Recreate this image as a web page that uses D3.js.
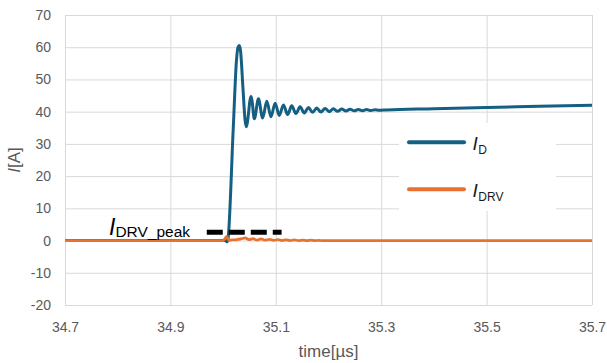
<!DOCTYPE html>
<html>
<head>
<meta charset="utf-8">
<script src="https://cdn.jsdelivr.net/npm/d3@7"></script>
<style>
  body { margin: 0; background: #fff; }
  svg { display: block; font-family: "Liberation Sans", Arial, sans-serif; }
</style>
</head>
<body>
<script>
var W = 607, H = 363;
var margin = {left: 65, right: 15, top: 15, bottom: 58};

// axis ticks
var xTicks = [34.7, 34.9, 35.1, 35.3, 35.5, 35.7];
var yTicks = [-20, -10, 0, 10, 20, 30, 40, 50, 60, 70];

// I_D trace (time in us, current in A)
var timeD = [34.7, 35.004, 35.0075, 35.0093, 35.0193, 35.0254, 35.0283, 35.0307, 35.0330,
  35.0378, 35.0416, 35.0444, 35.0472, 35.0510, 35.0529, 35.0548, 35.0592,
  35.0671, 35.0750, 35.0829, 35.0908, 35.0987, 35.1066, 35.1145, 35.1224,
  35.1303, 35.1382, 35.1461, 35.1540, 35.1619, 35.1698, 35.1777, 35.1856,
  35.1935, 35.2014, 35.2093, 35.2172, 35.2251, 35.2330, 35.2409, 35.2488,
  35.2567, 35.2646, 35.2725, 35.2804, 35.2883, 35.2962, 35.31, 35.4, 35.5, 35.6, 35.7];
var currentD = [0, 0, -0.4, 0.5, 35, 56, 60, 60.5, 59,
  47, 37.5, 35.3, 38, 43.5, 44.7, 43.5, 37.8,
  44.0, 38.0, 43.2, 38.4, 42.6, 38.8, 42.1, 39.1,
  41.8, 39.4, 41.5, 39.6, 41.3, 39.8, 41.1, 39.9,
  41.0, 40.0, 40.9, 40.1, 40.8, 40.2, 40.75, 40.25,
  40.7, 40.3, 40.65, 40.35, 40.6, 40.45, 40.55, 40.9, 41.3, 41.65, 42.0];

// I_DRV trace
var timeDRV = [34.7, 35.0004, 35.0068, 35.0112, 35.0169, 35.0264, 35.0340, 35.0416,
  35.0491, 35.0567, 35.0643, 35.0719, 35.0795, 35.0880, 35.0956, 35.1042,
  35.1118, 35.1193, 35.1270, 35.1355, 35.1431, 35.1516, 35.1592, 35.1668,
  35.1744, 35.1820, 35.1896, 35.203, 35.7];
var currentDRV = [0, 0, 1.3, 0.1, 0.2, 0.3, 0.5, 0.8,
  0.3, 0.6, 0.1, 0.5, 0.1, 0.4, 0.05, 0.3,
  0, 0.25, 0, 0.2, 0, 0.15, 0, 0.1,
  -0.05, 0.08, -0.05, 0, 0];

// I_DRV_peak marker
var peakLevel = 2.6;
var peakSpan = [34.969, 35.111];

var seriesD = timeD.map((t, i) => ({t: t, v: currentD[i]}));
var seriesDRV = timeDRV.map((t, i) => ({t: t, v: currentDRV[i]}));

var colorD = "#156082", colorDRV = "#E97132";

var x = d3.scaleLinear().domain([34.7, 35.7]).range([margin.left, W - margin.right]);
var y = d3.scaleLinear().domain([-20, 70]).range([H - margin.bottom, margin.top]);

var svg = d3.select("body").append("svg")
  .attr("width", W)
  .attr("height", H);

// gridlines + tick labels
var xAxis = svg.append("g")
  .attr("transform", "translate(0," + (H - margin.bottom) + ")")
  .call(d3.axisBottom(x).tickValues(xTicks).tickFormat(d => d.toFixed(1))
    .tickSizeInner(-(H - margin.top - margin.bottom)).tickSizeOuter(0).tickPadding(17));

var yAxis = svg.append("g")
  .attr("transform", "translate(" + margin.left + ",0)")
  .call(d3.axisLeft(y).tickValues(yTicks).tickFormat(d => String(d))
    .tickSizeInner(-(W - margin.left - margin.right)).tickSizeOuter(0).tickPadding(14));

[xAxis, yAxis].forEach(g => {
  g.select(".domain").remove();
  g.selectAll(".tick line").attr("stroke", "#d9d9d9").attr("stroke-width", 1);
  g.selectAll(".tick text").attr("fill", "#595959")
    .attr("font-size", 14).attr("font-family", "Liberation Sans, Arial, sans-serif");
});

// axis titles
svg.append("text")
  .attr("x", (margin.left + W - margin.right) / 2)
  .attr("y", 357)
  .attr("text-anchor", "middle")
  .attr("fill", "#595959")
  .attr("font-size", 17)
  .text("time[µs]");

var yTitle = svg.append("text")
  .attr("transform", "translate(20,160) rotate(-90)")
  .attr("text-anchor", "middle")
  .attr("fill", "#595959")
  .attr("font-size", 17);
yTitle.append("tspan").attr("font-style", "italic").text("I");
yTitle.append("tspan").text("[A]");

// series
var line = d3.line()
  .x(d => x(d.t))
  .y(d => y(d.v))
  .curve(d3.curveMonotoneX);

svg.append("path")
  .datum(seriesD)
  .attr("d", line)
  .attr("fill", "none")
  .attr("stroke", colorD)
  .attr("stroke-width", 3)
  .attr("stroke-linejoin", "round");

svg.append("path")
  .datum(seriesDRV)
  .attr("d", line)
  .attr("fill", "none")
  .attr("stroke", colorDRV)
  .attr("stroke-width", 2.75)
  .attr("stroke-linejoin", "round");

// legend
svg.append("rect")
  .attr("x", 399).attr("y", 123)
  .attr("width", 157).attr("height", 88)
  .attr("fill", "#fff");

var legendItems = [
  {sub: "D", color: colorD, y: 142.3},
  {sub: "DRV", color: colorDRV, y: 189.3}
];
var leg = svg.selectAll(".legend")
  .data(legendItems)
  .enter()
  .append("g")
  .attr("class", "legend")
  .attr("transform", d => "translate(0," + d.y + ")");
leg.append("line")
  .attr("x1", 409).attr("x2", 464)
  .attr("stroke", d => d.color)
  .attr("stroke-width", 4)
  .attr("stroke-linecap", "round");
var legText = leg.append("text")
  .attr("x", 472.5)
  .attr("y", 7.7)
  .attr("fill", "#1a1a1a")
  .attr("font-size", 19);
legText.append("tspan").attr("font-style", "italic").text("I");
legText.append("tspan").attr("font-size", 12).attr("dy", 4.5).attr("dx", 0.5).text(d => d.sub);

// I_DRV_peak annotation
svg.append("line")
  .attr("x1", x(peakSpan[0])).attr("x2", x(peakSpan[1]))
  .attr("y1", y(peakLevel)).attr("y2", y(peakLevel))
  .attr("stroke", "#000")
  .attr("stroke-width", 5)
  .attr("stroke-dasharray", "16,6");

var peakText = svg.append("text")
  .attr("x", 109)
  .attr("y", 235)
  .attr("fill", "#000")
  .attr("font-size", 23);
peakText.append("tspan").attr("font-style", "italic").text("I");
peakText.append("tspan").attr("font-size", 15.5).attr("dy", 1.7).text("DRV_peak");
</script>
</body>
</html>
